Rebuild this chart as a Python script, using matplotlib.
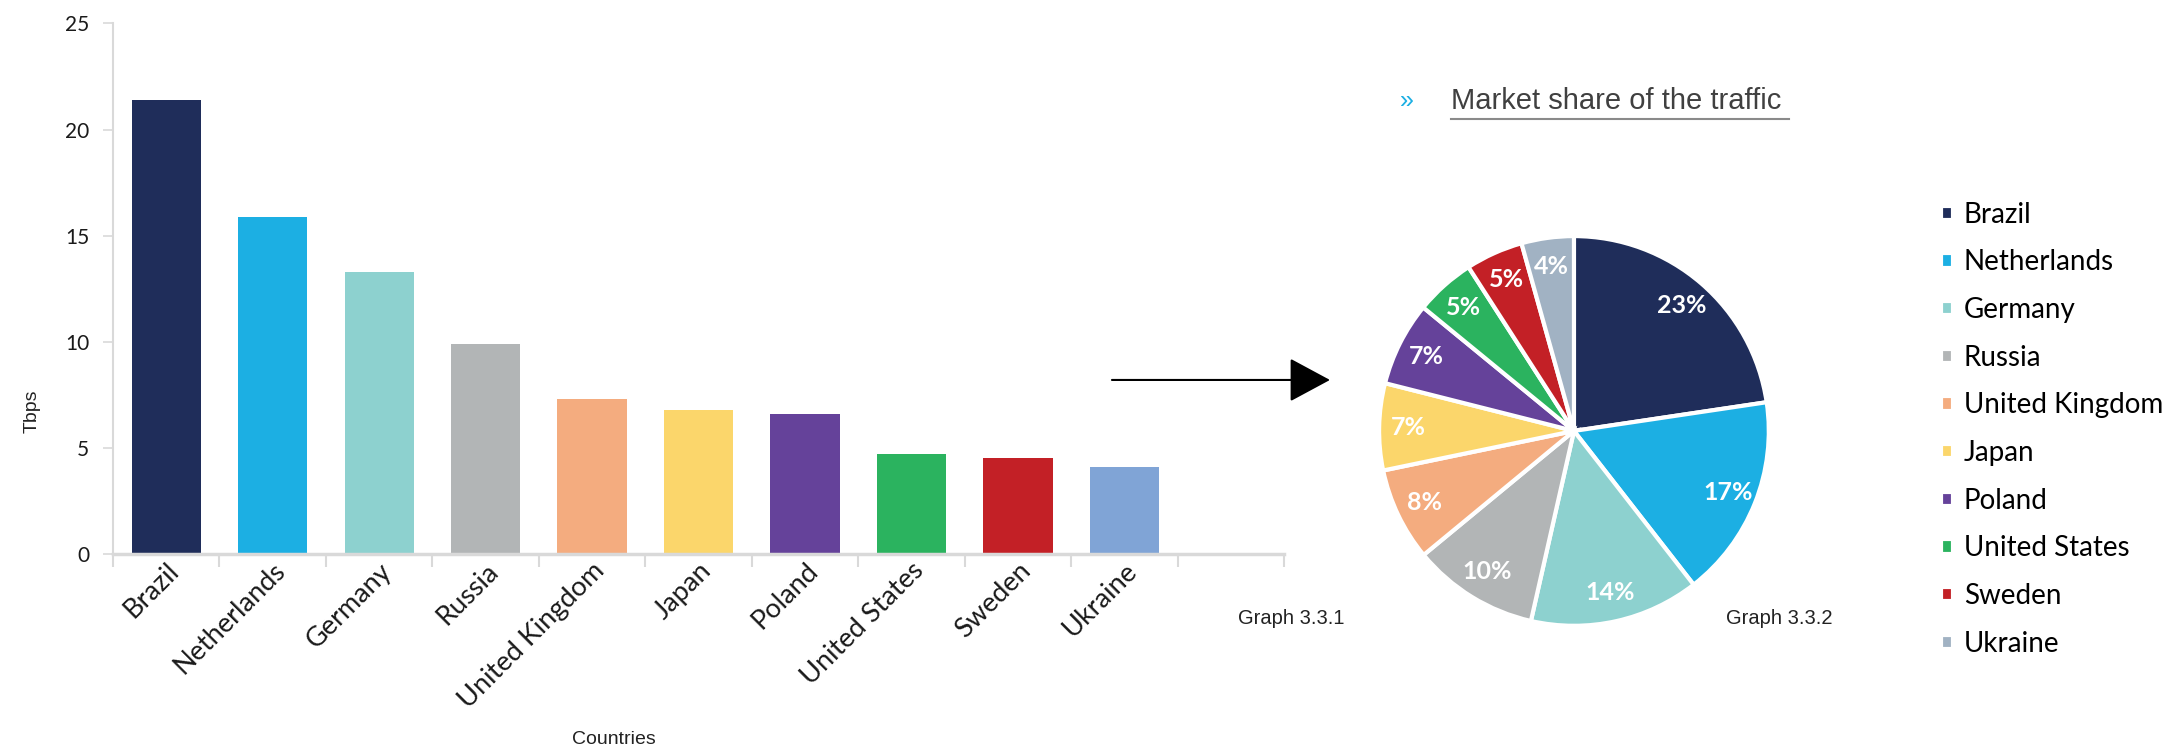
import matplotlib
matplotlib.use('Agg')
import matplotlib.pyplot as plt
from matplotlib.patches import FancyArrowPatch
from matplotlib.lines import Line2D

# Dữ liệu
countries = ['Brazil', 'Netherlands', 'Germany', 'Russia', 'United Kingdom',
             'Japan', 'Poland', 'United States', 'Sweden', 'Ukraine']
tbps = [21.4, 15.9, 13.3, 9.9, 7.3, 6.8, 6.6, 4.7, 4.5, 4.1]
bar_colors = ['#1F2D5A', '#1CAFE3', '#8DD1CF', '#B2B5B6', '#F4AC7F',
              '#FBD66B', '#65429A', '#2BB35F', '#C32026', '#80A4D6']
pie_colors = bar_colors[:-1] + ['#A1B2C3']
y_ticks = [0, 5, 10, 15, 20, 25]

grey = '#D9D9D9'
fig = plt.figure(figsize=(21.65, 7.53), dpi=100)

# Biểu đồ cột
ax = fig.add_axes([0.0522, 0.2643, 0.5409, 0.7045])
x = list(range(len(countries)))
ax.bar(x, tbps, width=0.65, color=bar_colors)
ax.set_xlim(-0.5, 10.5)
ax.set_ylim(0, 25)
ax.set_yticks(y_ticks)
ax.set_xticks(x)
ax.set_xticklabels(countries, rotation=45, ha='right', rotation_mode='anchor',
                   family='Lato', fontsize=19.5, color='#1A1A1A')
ax.set_xticks([i - 0.5 for i in range(12)], minor=True)
ax.tick_params(axis='x', which='major', length=0, pad=3)
ax.tick_params(axis='x', which='minor', length=9, width=1.5, color=grey)
ax.tick_params(axis='y', length=7, width=1.2, color=grey, pad=10,
               labelsize=15, labelcolor='#1A1A1A')
for lab in ax.get_yticklabels():
    lab.set_family('Lato')
for s in ['top', 'right']:
    ax.spines[s].set_visible(False)
ax.spines['left'].set_color(grey)
ax.spines['left'].set_linewidth(1.5)
ax.spines['bottom'].set_color(grey)
ax.spines['bottom'].set_linewidth(2.5)
ax.set_ylabel('Tbps', family='Liberation Sans', fontsize=14, color='#222222')
ax.yaxis.set_label_coords(-0.062, 0.27)
ax.set_xlabel('Countries', family='Liberation Sans', fontsize=14, color='#222222',
              va='center')
ax.xaxis.set_label_coords(0.428, -0.35)

# Biểu đồ tròn
axp = fig.add_axes([0.637, 0.1687, 0.180, 0.518])
wedges, texts, autotexts = axp.pie(
    tbps, colors=pie_colors, startangle=90, counterclock=False,
    autopct=lambda p: f'{p:.0f}%', pctdistance=0.85,
    wedgeprops=dict(edgecolor='white', linewidth=3),
    textprops=dict(color='white', fontsize=18, fontweight='bold', family='Lato'))
for w in wedges:
    w.set_clip_on(False)
axp.set_xlim(-1, 1)
axp.set_ylim(-1, 1)
axp.set_aspect('equal')

axp.legend(wedges, countries, loc='center left', bbox_to_anchor=(0.8966, 0.430),
           bbox_transform=fig.transFigure, frameon=False,
           prop={'family': 'Lato', 'size': 20},
           handlelength=0.42, handleheight=0.42, handletextpad=0.4,
           labelspacing=0.78, borderpad=0, borderaxespad=0)

# Tiêu đề và chú thích
fig.text(0.650, 0.866, '»', color='#1CAFE3', fontsize=18, ha='center', va='center',
         family='Liberation Sans')
fig.text(0.670, 0.866, 'Market share of the traffic', color='#404040', fontsize=21,
         ha='left', va='center', family='Liberation Sans')
fig.add_artist(Line2D([0.670, 0.8265], [0.842, 0.842], transform=fig.transFigure,
                      color='#8A8A8A', lw=1.5))
fig.text(0.572, 0.178, 'Graph 3.3.1', fontsize=14.5, family='Liberation Sans',
         color='#222222', va='center')
fig.text(0.797, 0.178, 'Graph 3.3.2', fontsize=14.5, family='Liberation Sans',
         color='#222222', va='center')

# Mũi tên
fig.add_artist(FancyArrowPatch((0.5136, 0.4954), (0.6143, 0.4954),
                               transform=fig.transFigure,
                               arrowstyle='-|>,head_length=1.3,head_width=0.7',
                               mutation_scale=20, color='black', lw=1.5,
                               shrinkA=0, shrinkB=0))

fig.savefig('out.png', dpi=100)
